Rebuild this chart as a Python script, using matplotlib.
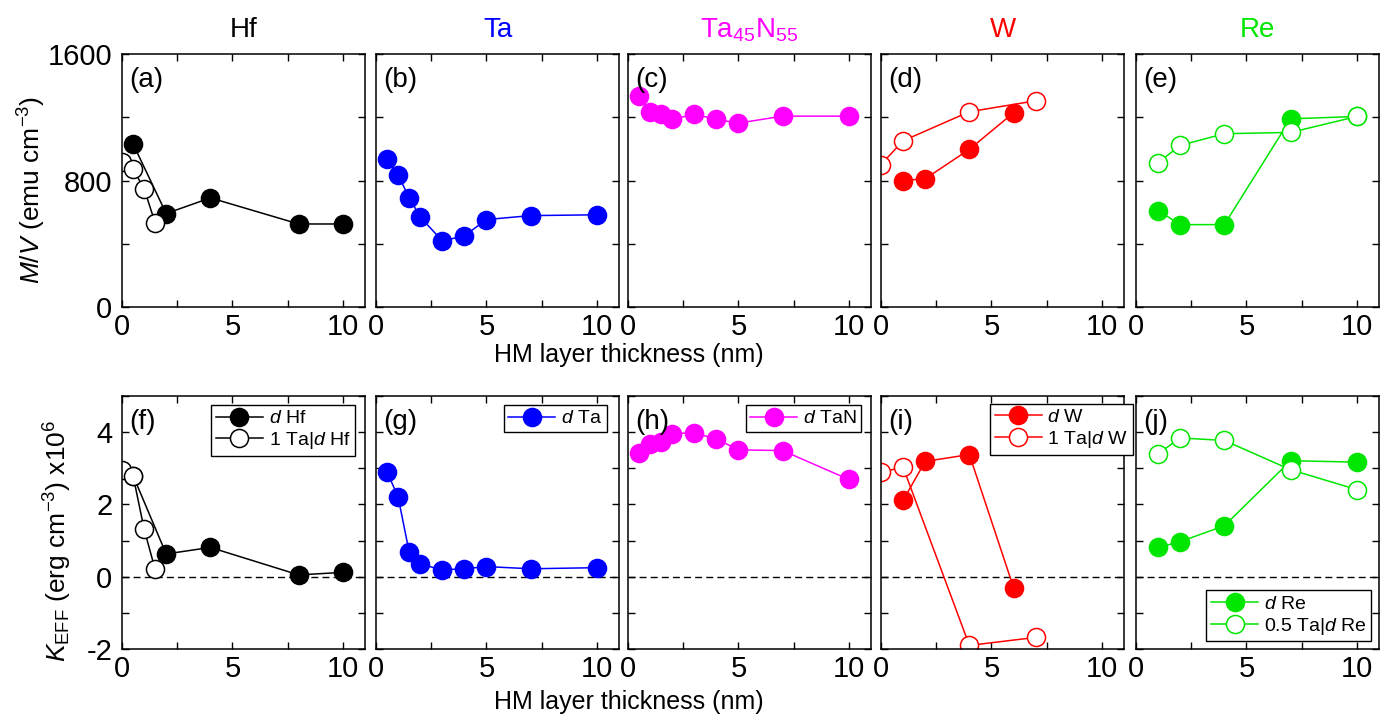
import matplotlib
matplotlib.use('Agg')
import matplotlib.pyplot as plt
from matplotlib.ticker import MultipleLocator

plt.rcParams['font.family'] = ['Liberation Sans', 'DejaVu Sans']
plt.rcParams['mathtext.fontset'] = 'custom'
plt.rcParams['mathtext.rm'] = 'Liberation Sans'
plt.rcParams['mathtext.it'] = 'Liberation Sans:italic'
plt.rcParams['mathtext.bf'] = 'Liberation Sans:bold'
plt.rcParams['axes.unicode_minus'] = False

# heavy metals, one column each
metals = ['Hf', 'Ta', 'Ta$_{45}$N$_{55}$', 'W', 'Re']
colors = ['black', '#0000ff', '#ff00ff', '#ff0000', '#00e600']
tags_top = ['(a)', '(b)', '(c)', '(d)', '(e)']
tags_bot = ['(f)', '(g)', '(h)', '(i)', '(j)']

# magnetisation per volume (emu cm^-3), d HM
hf_d = [0.5, 2, 4, 8, 10]
hf_mv = [1032, 591, 690, 525, 525]
hf_k = [2.8, 0.63, 0.81, 0.05, 0.12]
# 1 Ta | d Hf
hfta_d = [0, 0.5, 1, 1.5]
hfta_mv = [918, 871, 749, 532]
hfta_k = [2.96, 2.8, 1.32, 0.2]

ta_d = [0.5, 1, 1.5, 2, 3, 4, 5, 7, 10]
ta_mv = [935, 834, 692, 570, 418, 450, 553, 578, 583]
ta_k = [2.9, 2.21, 0.69, 0.35, 0.19, 0.22, 0.28, 0.22, 0.25]

tan_d = [0.5, 1, 1.5, 2, 3, 4, 5, 7, 10]
tan_mv = [1334, 1235, 1220, 1186, 1220, 1186, 1163, 1207, 1207]
tan_k = [3.41, 3.66, 3.74, 3.96, 3.98, 3.81, 3.51, 3.49, 2.69]

w_d = [1, 2, 4, 6]
w_mv = [800, 811, 997, 1228]
w_k = [2.11, 3.19, 3.38, -0.30]
# 1 Ta | d W
wta_d = [0, 1, 4, 7]
wta_mv = [901, 1051, 1235, 1304]
wta_k = [2.89, 3.03, -1.90, -1.68]

re_d = [1, 2, 4, 7, 10]
re_mv = [610, 521, 521, 1190, 1205]
re_k = [0.81, 0.97, 1.41, 3.21, 3.17]
# 0.5 Ta | d Re
reta_d = [1, 2, 4, 7, 10]
reta_mv = [912, 1022, 1096, 1104, 1205]
reta_k = [3.40, 3.84, 3.77, 2.96, 2.41]

# (x, M/V, K, label, open marker) per column
series = [
    [(hf_d, hf_mv, hf_k, '$\\it{d}$ Hf', False),
     (hfta_d, hfta_mv, hfta_k, '1 Ta|$\\it{d}$ Hf', True)],
    [(ta_d, ta_mv, ta_k, '$\\it{d}$ Ta', False)],
    [(tan_d, tan_mv, tan_k, '$\\it{d}$ TaN', False)],
    [(w_d, w_mv, w_k, '$\\it{d}$ W', False),
     (wta_d, wta_mv, wta_k, '1 Ta|$\\it{d}$ W', True)],
    [(re_d, re_mv, re_k, '$\\it{d}$ Re', False),
     (reta_d, reta_mv, reta_k, '0.5 Ta|$\\it{d}$ Re', True)],
]

W, H = 1392, 723
fig = plt.figure(figsize=(W / 100, H / 100), dpi=100)

lefts = [122, 376, 628, 881, 1136]
pw, ph = 243, 253
top_y, bot_y = 54, 396

leg_kw = [dict(loc='upper right', bbox_to_anchor=(0.96, 0.965)),
          dict(loc='upper right', bbox_to_anchor=(0.95, 0.965)),
          dict(loc='upper right', bbox_to_anchor=(0.96, 0.965)),
          dict(loc='upper right', bbox_to_anchor=(1.037, 0.97)),
          dict(loc='lower right', bbox_to_anchor=(0.968, 0.03))]


def style(ax, first, ymaj, ymin):
    ax.set_xlim(0, 11)
    ax.xaxis.set_major_locator(MultipleLocator(5))
    ax.xaxis.set_minor_locator(MultipleLocator(2.5))
    ax.yaxis.set_major_locator(MultipleLocator(ymaj))
    ax.yaxis.set_minor_locator(MultipleLocator(ymin))
    ax.tick_params(which='both', direction='in', top=True, right=True,
                   length=5, width=1, labelsize=21, pad=4)
    ax.tick_params(axis='y', pad=7)
    if not first:
        ax.tick_params(axis='y', labelleft=False)
    for s in ax.spines.values():
        s.set_linewidth(1.1)


for i in range(5):
    c = colors[i]
    ax1 = fig.add_axes([lefts[i] / W, 1 - (top_y + ph) / H, pw / W, ph / H])
    ax2 = fig.add_axes([lefts[i] / W, 1 - (bot_y + ph) / H, pw / W, ph / H])

    for x, mv, k, lab, hollow in series[i]:
        face = 'white' if hollow else c
        kw = dict(color=c, lw=1.1, marker='o', ms=13, mfc=face, mec=c, mew=1.1)
        ax1.plot(x, mv, **kw)
        ax2.plot(x, k, label=lab, **kw)

    ax1.set_ylim(0, 1600)
    ax2.set_ylim(-2, 5)
    style(ax1, i == 0, 800, 400)
    style(ax2, i == 0, 2, 1)
    ax2.axhline(0, color='black', lw=1, ls='--', dashes=(5, 3), zorder=1)

    ax1.set_title(metals[i], color=c, fontsize=20, pad=12)
    ax1.text(0.03, 0.95, tags_top[i], transform=ax1.transAxes,
             fontsize=20, va='top', ha='left')
    ax2.text(0.03, 0.95, tags_bot[i], transform=ax2.transAxes,
             fontsize=20, va='top', ha='left')

    leg = ax2.legend(fontsize=14, frameon=True, fancybox=False,
                     edgecolor='black', framealpha=1, borderpad=0.25,
                     handlelength=2.4, handletextpad=0.3, labelspacing=0.15,
                     borderaxespad=0, **leg_kw[i])
    leg.get_frame().set_linewidth(1)

fig.text(629 / W, 1 - 355 / H, 'HM layer thickness (nm)', fontsize=18,
         ha='center', va='center')
fig.text(629 / W, 1 - 702 / H, 'HM layer thickness (nm)', fontsize=18,
         ha='center', va='center')
fig.text(32 / W, 1 - 190 / H, '$\\it{M/V}$ (emu cm$^{-3}$)', fontsize=19,
         rotation=90, ha='center', va='center')
fig.text(58 / W, 1 - 541 / H, '$\\it{K}_{\\rm EFF}$ (erg cm$^{-3}$) x10$^6$',
         fontsize=19, rotation=90, ha='center', va='center')

fig.savefig('out.png', dpi=100)
